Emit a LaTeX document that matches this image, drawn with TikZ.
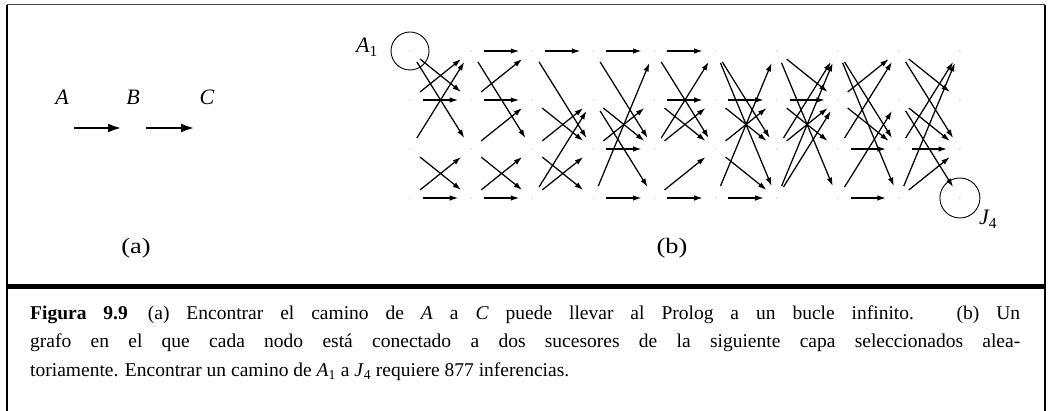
\documentclass[tikz,border=0pt]{standalone}
\usepackage{fontspec}
\setmainfont{Liberation Serif}
\newfontfamily\widefont[FakeStretch=1.2]{Liberation Serif}
\usetikzlibrary{arrows.meta}
\begin{document}
\begin{tikzpicture}[x=1pt,y=-1pt,
  edge/.style={line width=1.25pt, -{Latex[length=8.5pt,width=5.5pt]}, shorten <=12pt, shorten >=12pt},
  bigarrow/.style={line width=2.8pt, -{Latex[length=14pt,width=9pt]}, shorten <=12pt, shorten >=12pt},
  pt/.style={circle, fill=black!25, inner sep=0pt, minimum size=1.4pt},
  lab/.style={font=\fontsize{22}{22}\selectfont\itshape, inner sep=0pt},
  sub/.style={font=\fontsize{22}{22}\selectfont\widefont, inner sep=0pt},
  capt/.style={font=\fontsize{19.5}{28}\selectfont, inner sep=0pt, anchor=base west},
  ring/.style={line width=0.9pt}
]
\useasboundingbox (0,0) rectangle (1049,411);
% frame
\draw[line width=1pt, black!75] (7,5) -- (1045,5);
\draw[line width=1.5pt] (7,5) -- (7,411);
\draw[line width=1.5pt] (1045,5) -- (1045,411);
\draw[line width=5pt] (7,287) -- (1045,287);
% (a)
\coordinate (pa) at (62,128);
\coordinate (pb) at (134,128);
\coordinate (pc) at (207,128);
\node[lab] (la) at (62,97) {A};
\node[lab] (lb) at (133,97) {B};
\node[lab] (lc) at (207,97) {C};
\draw[bigarrow] (pa) -- (pb);
\draw[bigarrow] (pb) -- (pc);
\node[sub] (suba) at (136,248) {(a)};
% (b)
\foreach \c [count=\i from 0] in {A,B,C,D,E,F,G,H,I,J} {
  \foreach \r/\y in {1/51,2/100,3/149,4/198} {
    \node[pt] (\c\r) at ({410+61.1*\i},\y) {};
  }
}
\foreach \s/\t in {A1/B2,A1/B3,A2/B1,A2/B2,A3/B1,A3/B4,A4/B3,A4/B4,
  B1/C1,B1/C3,B2/C1,B2/C2,B3/C2,B3/C4,B4/C3,B4/C4,
  C1/D1,C1/D3,C2/D3,C3/D2,C3/D4,C4/D2,C4/D3,
  D1/E1,D1/E3,D2/E3,D2/E4,D3/E2,D3/E3,D4/E1,D4/E4,
  E1/F1,E1/F3,E2/F2,E2/F3,E3/F1,E3/F2,E4/F3,E4/F4,
  F1/G3,F1/G4,F2/G2,F2/G3,F3/G2,F3/G4,F4/G1,F4/G4,
  G1/H2,G1/H4,G2/H2,G2/H3,G3/H1,G3/H2,G4/H1,G4/H2,
  H1/I3,H1/I4,H2/I1,H2/I3,H3/I1,H3/I3,H4/I2,H4/I4,
  I1/J2,I1/J3,I2/J3,I2/J4,I3/J1,I3/J3,I4/J1,I4/J3}
  \draw[edge] (\s) -- (\t);
\draw[ring] (A1) circle (19pt);
\draw[ring] (J4) circle (20pt);
\node[lab, anchor=base west] (lA1) at (356,53) {A\textsubscript{\upshape 1}};
\node[lab, anchor=base west] (lJ4) at (979,225) {J\textsubscript{\upshape 4}};
\node[sub] (subb) at (672,248) {(b)};
% caption
\node[capt] (c1) at (30,320) {\makebox[990pt][s]{\textbf{Figura 9.9}\hspace{20pt}(a) Encontrar el camino de \textit{A} a \textit{C} puede llevar al Prolog a un bucle infinito. (b) Un}};
\node[capt] (c2) at (30,348) {\makebox[990pt][s]{grafo en el que cada nodo está conectado a dos sucesores de la siguiente capa seleccionados alea-}};
\node[capt] (c3) at (30,376) {toriamente. Encontrar un camino de \textit{A}\textsubscript{1} a \textit{J}\textsubscript{4} requiere 877 inferencias.};
\end{tikzpicture}
\end{document}
